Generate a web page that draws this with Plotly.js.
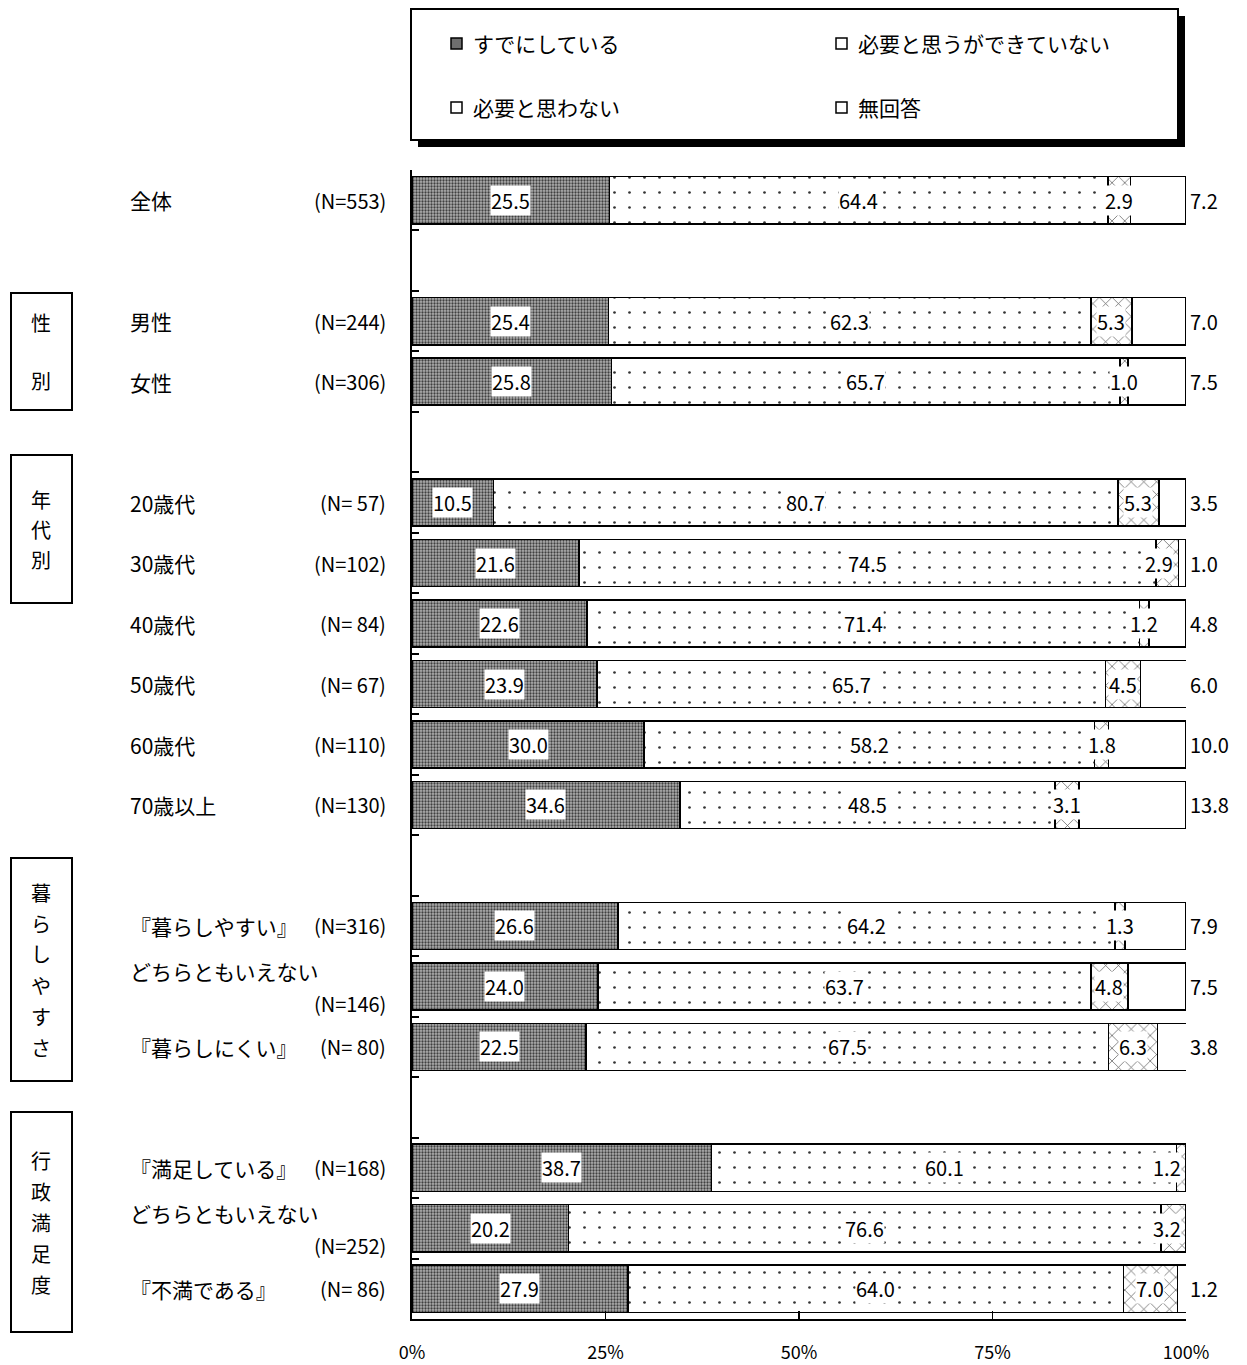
<!DOCTYPE html>
<html>
<head>
<meta charset="utf-8">
<script src="https://cdn.plot.ly/plotly-3.0.1.min.js"></script>
<style>html,body{margin:0;padding:0;background:#fff;}</style>
</head>
<body>
<div id="chart" style="width:1247px;height:1365px;"></div>
<script>
// ---- data ----
const seriesNames = ["すでにしている", "必要と思うができていない", "必要と思わない", "無回答"];
const groupNames = ["", "性別", "年代別", "暮らしやすさ", "行政満足度"];
const groupSizes = [1, 2, 6, 3, 3];
const categories = ["全体", "男性", "女性", "20歳代", "30歳代", "40歳代", "50歳代", "60歳代", "70歳以上",
  "『暮らしやすい』", "どちらともいえない", "『暮らしにくい』", "『満足している』", "どちらともいえない", "『不満である』"];
const nLabels = ["(N=553)", "(N=244)", "(N=306)", "(N= 57)", "(N=102)", "(N= 84)", "(N= 67)", "(N=110)", "(N=130)",
  "(N=316)", "(N=146)", "(N= 80)", "(N=168)", "(N=252)", "(N= 86)"];
const twoLine = [false, false, false, false, false, false, false, false, false, false, true, false, false, true, false];
const already = [25.5, 25.4, 25.8, 10.5, 21.6, 22.6, 23.9, 30.0, 34.6, 26.6, 24.0, 22.5, 38.7, 20.2, 27.9];
const wantButNot = [64.4, 62.3, 65.7, 80.7, 74.5, 71.4, 65.7, 58.2, 48.5, 64.2, 63.7, 67.5, 60.1, 76.6, 64.0];
const notNeeded = [2.9, 5.3, 1.0, 5.3, 2.9, 1.2, 4.5, 1.8, 3.1, 1.3, 4.8, 6.3, 1.2, 3.2, 7.0];
const noAnswer = [7.2, 7.0, 7.5, 3.5, 1.0, 4.8, 6.0, 10.0, 13.8, 7.9, 7.5, 3.8, null, null, 1.2];
const xTickVals = [0, 25, 50, 75, 100];
const xTickText = ["0%", "25%", "50%", "75%", "100%"];

// ---- layout helpers ----
const W = 1247, H = 1365;
const L = 412, R = 61, T = 170, B = 46;
const PW = W - L - R, PH = H - T - B;
const px = x => (x - L) / PW;
const py = y => (H - B - y) / PH;
const FONT = '"Noto Sans CJK JP", "Noto Sans", sans-serif';

// slot positions: a gap slot between groups
const ypos = [];
let slot = 0;
groupSizes.forEach((n, g) => {
  if (g > 0) slot += 1;
  for (let i = 0; i < n; i++) { ypos.push(slot); slot++; }
});
const nSlots = slot;

const series = [already, wantButNot, notNeeded, noAnswer];
const patterns = [
  {shape: ".", bgcolor: "#b0b0b0", fgcolor: "#404040", size: 3, solidity: 0.45},
  {shape: ".", bgcolor: "#ffffff", fgcolor: "#333333", size: 15, solidity: 0.025},
  {shape: "x", bgcolor: "#ffffff", fgcolor: "#555555", size: 9, solidity: 0.15},
  {shape: "", bgcolor: "#ffffff", fgcolor: "#ffffff"}
];

const traces = series.map((vals, s) => ({
  type: "bar",
  orientation: "h",
  name: seriesNames[s],
  x: vals,
  y: ypos,
  width: 0.78,
  marker: {
    color: "#ffffff",
    line: {color: "#000000", width: 1.5},
    pattern: patterns[s]
  },
  hoverinfo: "skip",
  showlegend: false
}));

const annotations = [];
const labFont = {family: FONT, size: 20, color: "#000"};
// value labels
for (let i = 0; i < categories.length; i++) {
  let cum = 0;
  for (let s = 0; s < 3; s++) {
    const v = series[s][i];
    const mid = cum + v / 2;
    const end = Math.min(100, Math.round((cum + v) * 10) / 10);
    const a = {
      x: mid, y: ypos[i], xref: "x", yref: "y",
      text: v.toFixed(1), showarrow: false, font: labFont,
      bgcolor: "#ffffff", borderpad: 0, xanchor: "center", yanchor: "middle"
    };
    if (s === 2 && v < 4 && end > 97) { a.x = end - 0.05; a.xanchor = "right"; a.xshift = -4; }
    annotations.push(a);
    cum = cum + v;
  }
  if (noAnswer[i] !== null) {
    annotations.push({
      x: 100, y: ypos[i], xref: "x", yref: "y", text: noAnswer[i].toFixed(1),
      showarrow: false, font: labFont, xanchor: "left", xshift: 2, yanchor: "middle"
    });
  }
  // category + N
  annotations.push({
    x: px(128), y: ypos[i], xref: "paper", yref: "y", text: categories[i],
    showarrow: false, font: {family: FONT, size: 21, color: "#000"},
    xanchor: "left", yanchor: "middle", yshift: twoLine[i] ? 15 : 0
  });
  annotations.push({
    x: px(388), y: ypos[i], xref: "paper", yref: "y", text: nLabels[i],
    showarrow: false, font: {family: FONT, size: 20, color: "#000"},
    xanchor: "right", yanchor: "middle", yshift: twoLine[i] ? -17 : 0
  });
}

const shapes = [];
// group boxes with vertical text
const boxPx = [null, [293, 410], [455, 603], [858, 1081], [1112, 1332]];
const charStep = [0, 58, 30, 31, 31];
for (let g = 1; g < groupNames.length; g++) {
  const [y0, y1] = boxPx[g];
  shapes.push({type: "rect", xref: "paper", yref: "paper", x0: px(11), x1: px(72), y0: py(y1), y1: py(y0),
    line: {color: "#000", width: 2}, fillcolor: "rgba(0,0,0,0)"});
  const chars = Array.from(groupNames[g]);
  const cy = (y0 + y1) / 2;
  chars.forEach((c, k) => {
    const yy = cy + (k - (chars.length - 1) / 2) * charStep[g];
    annotations.push({x: px(41), y: py(yy), xref: "paper", yref: "paper", text: c, showarrow: false,
      font: {family: FONT, size: 20, color: "#000"}, xanchor: "center", yanchor: "middle"});
  });
}

// legend (drawn manually)
shapes.push({type: "rect", xref: "paper", yref: "paper", x0: px(418), x1: px(1185), y0: py(147), y1: py(16),
  line: {width: 0}, fillcolor: "#000"});
shapes.push({type: "rect", xref: "paper", yref: "paper", x0: px(411), x1: px(1178), y0: py(140), y1: py(9),
  line: {color: "#000", width: 2}, fillcolor: "#fff"});
const legPos = [[451, 43], [836, 43], [451, 107], [836, 107]];
const legFill = ["#6e6e6e", "#ffffff", "#ffffff", "#ffffff"];
seriesNames.forEach((nm, s) => {
  const [lx, ly] = legPos[s];
  shapes.push({type: "rect", xref: "paper", yref: "paper", x0: px(lx), x1: px(lx + 11), y0: py(ly + 6), y1: py(ly - 5),
    line: {color: "#000", width: 1.5}, fillcolor: legFill[s]});
  annotations.push({x: px(lx + 20), y: py(ly), xref: "paper", yref: "paper", text: nm, showarrow: false,
    font: {family: FONT, size: 21, color: "#000"}, xanchor: "left", yanchor: "middle"});
});

const yTicks = [];
for (let k = 0; k <= nSlots; k++) yTicks.push(k - 0.5);

const layout = {
  width: W, height: H,
  margin: {l: L, r: R, t: T, b: B, pad: 0},
  paper_bgcolor: "#fff", plot_bgcolor: "#fff",
  barmode: "stack",
  showlegend: false,
  font: {family: FONT, color: "#000"},
  xaxis: {
    range: [0, 100], tickvals: xTickVals, ticktext: xTickText,
    ticks: "inside", ticklen: 8, tickwidth: 1.5, tickcolor: "#000",
    showline: true, linecolor: "#000", linewidth: 2,
    showgrid: false, zeroline: false, fixedrange: true,
    tickfont: {family: FONT, size: 18, color: "#000"}, ticklabelstandoff: 16
  },
  yaxis: {
    range: [nSlots - 0.5, -0.5], tickvals: yTicks, showticklabels: false,
    ticks: "inside", ticklen: 7, tickwidth: 2, tickcolor: "#000",
    showline: true, linecolor: "#000", linewidth: 2,
    showgrid: false, zeroline: false, fixedrange: true
  },
  shapes: shapes,
  annotations: annotations
};

Plotly.newPlot("chart", traces, layout, {displayModeBar: false, staticPlot: true});
</script>
</body>
</html>
